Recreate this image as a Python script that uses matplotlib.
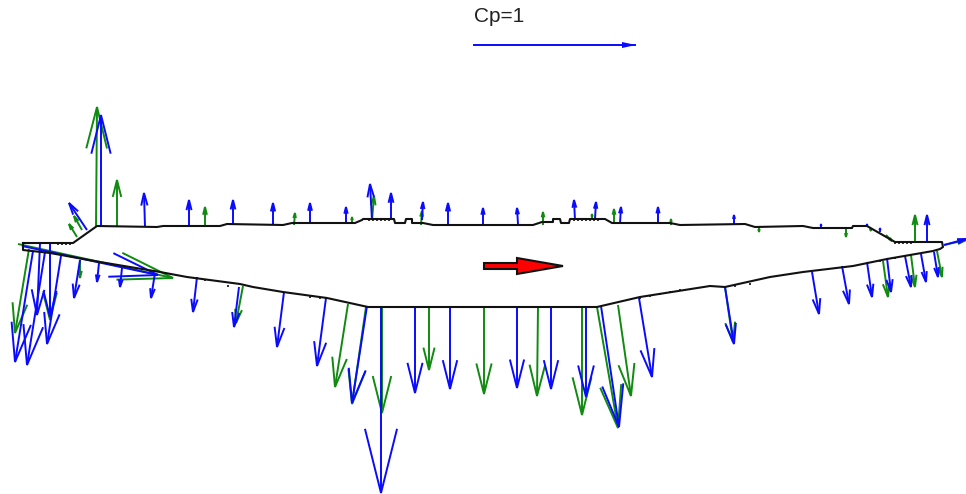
#!/usr/bin/env python3
"""Pressure coefficient vectors around a profile, measured vs computed."""

import math

import matplotlib
matplotlib.use("Agg")
import matplotlib.pyplot as plt

# ---------- data (image pixels) ----------
# arrows are base x, base y, tip x, tip y
blue_arrows = [
    (101, 226, 101, 115), (145, 227, 144, 193), (189, 227, 189, 200),
    (233, 225, 233, 200), (87, 230, 69, 203), (273, 225, 273, 203),
    (310, 223, 310, 203), (346, 224, 346, 207), (372, 220, 370, 184),
    (391, 219, 391, 193), (422, 220, 423, 202), (448, 225, 448, 203),
    (483, 225, 483, 208), (518, 224, 517, 208), (575, 220, 574, 200),
    (595, 219, 596, 202), (620, 223, 621, 207), (658, 223, 658, 207),
    (734, 224, 734, 215), (821, 227, 821, 224), (867, 226, 867, 224),
    (880, 232, 880, 228), (927, 242, 927, 215), (944, 245, 966, 239),
    # lower surface
    (33, 251, 15, 362), (40, 243, 37, 315), (45, 252, 27, 365),
    (61, 256, 47, 344), (50, 243, 50, 317), (80, 260, 74, 298),
    (99, 263, 97, 282), (122, 268, 120, 287), (155, 273, 151, 298),
    (22, 246, 158, 275), (197, 277, 193, 312), (239, 287, 234, 327),
    (284, 292, 277, 347), (326, 298, 317, 366), (367, 306, 352, 403),
    (381, 307, 381, 493), (415, 307, 415, 393), (450, 307, 450, 389),
    (517, 307, 517, 388), (551, 307, 551, 389), (586, 307, 586, 397),
    (601, 306, 619, 427), (639, 298, 652, 377), (725, 287, 734, 344),
    (812, 272, 819, 314), (842, 266, 849, 304), (867, 262, 872, 297),
    (887, 258, 891, 292), (905, 256, 911, 287), (921, 254, 926, 282),
    (934, 252, 938, 277),
]
green_arrows = [
    (96, 226, 97, 107), (117, 227, 117, 180), (205, 227, 205, 207),
    (82, 230, 74, 216), (77, 237, 69, 224), (294, 225, 295, 213),
    (352, 224, 352, 217), (372, 220, 374, 196), (421, 225, 422, 211),
    (543, 225, 543, 212), (592, 219, 592, 214), (614, 223, 614, 209),
    (671, 225, 671, 219), (759, 226, 759, 232), (846, 228, 846, 237),
    (870, 227, 871, 231), (886, 235, 892, 241), (915, 242, 915, 215),
    (944, 245, 966, 240),
    # lower surface
    (29, 249, 15, 333), (50, 243, 50, 320), (80, 260, 80, 278),
    (18, 244, 173, 278), (243, 286, 236, 323), (348, 304, 335, 387),
    (366, 307, 352, 404), (382, 307, 382, 413), (429, 307, 429, 370),
    (484, 307, 484, 394), (538, 307, 537, 396), (582, 307, 582, 415),
    (597, 307, 618, 428), (618, 305, 631, 396), (725, 287, 733, 342),
    (883, 261, 888, 297), (911, 255, 915, 287), (937, 251, 942, 277),
]
outline_x = [23, 73, 97, 157, 163, 220, 227, 283, 292, 355, 362, 363, 394, 395,
             405, 406, 412, 412, 423, 433, 533, 542, 553, 553, 560, 561, 569,
             570, 605, 612, 670, 680, 745, 755, 803, 813, 852, 853, 867, 895,
             942, 943, 940, 933, 887, 853, 803, 770, 725, 710, 640, 597, 368,
             327, 283, 253, 240, 187, 160, 100, 50, 23, 23, 23]
outline_y = [243, 243, 226, 227, 226, 226, 224, 225, 223, 223, 220, 219, 219, 223,
             223, 219, 219, 223, 223, 225, 225, 222, 222, 219, 219, 223, 223,
             219, 219, 223, 223, 225, 224, 227, 226, 228, 228, 226, 226, 242,
             242, 247, 249, 251, 259, 266, 272, 277, 287, 286, 297, 307, 307,
             298, 292, 287, 284, 277, 272, 262, 253, 250, 247, 243]
rivet_x = [58, 62, 66, 70, 369, 373, 377, 381, 385, 389, 574, 578, 582, 586, 590,
           594, 598, 895, 899, 903, 907, 911, 105, 205, 228, 310, 320, 640, 650,
           660, 670, 680, 735, 750, 880, 895, 905]
rivet_y = [243, 243, 243, 243, 219, 219, 219, 219, 219, 219, 219, 219, 219, 219, 219,
           219, 219, 242, 242, 242, 242, 242, 262, 279, 285, 296, 297, 297, 295,
           293, 291, 289, 285, 283, 260, 257, 255]
scale_arrow = (474, 45, 635, 45)
red_x = [484, 517, 517, 563, 517, 517, 484]
red_y = [263, 263, 258, 266, 274, 269, 269]

BLUE = "#0a0aff"
GREEN = "#108a10"


def draw_arrow(ax, arrow, color, head_len=0.34, head_wid=0.085):
    x0, y0, x1, y1 = arrow
    dx, dy = x1 - x0, y1 - y0
    length = math.hypot(dx, dy)
    ax.plot([x0, x1], [y0, y1], color=color, lw=1.4, solid_capstyle="butt")
    # open V head, size follows the arrow length
    bx, by = x1 - dx * head_len, y1 - dy * head_len
    nx, ny = -dy / length * head_wid * length, dx / length * head_wid * length
    ax.plot([bx + nx, x1, bx - nx], [by + ny, y1, by - ny], color=color, lw=1.4,
            solid_joinstyle="miter")


# ---------- render ----------
fig = plt.figure(figsize=(9.66, 4.94), dpi=100)
ax = fig.add_axes([0, 0, 1, 1])
ax.set_xlim(0, 966)
ax.set_ylim(494, 0)
ax.axis("off")

for arrow in green_arrows:
    draw_arrow(ax, arrow, GREEN)
for arrow in blue_arrows:
    draw_arrow(ax, arrow, BLUE)

ax.plot(outline_x, outline_y, color="#111111", lw=1.5)
ax.vlines(rivet_x, rivet_y, [y + 2 for y in rivet_y], color="#111111", lw=1.2)

# scale arrow has a fixed small head
ax.plot(scale_arrow[::2], scale_arrow[1::2], color=BLUE, lw=1.4)
ax.fill([622, 636, 622], [42, 45, 48], color=BLUE, lw=0)
ax.text(474, 17, "Cp=1", fontsize=15, family="Liberation Sans", color="#222222",
        ha="left", va="center")

# flow direction
ax.fill(red_x, red_y, facecolor="#ff0000", edgecolor="#111111", lw=1.5, zorder=5)

fig.savefig("out.png", dpi=100, facecolor="white")
